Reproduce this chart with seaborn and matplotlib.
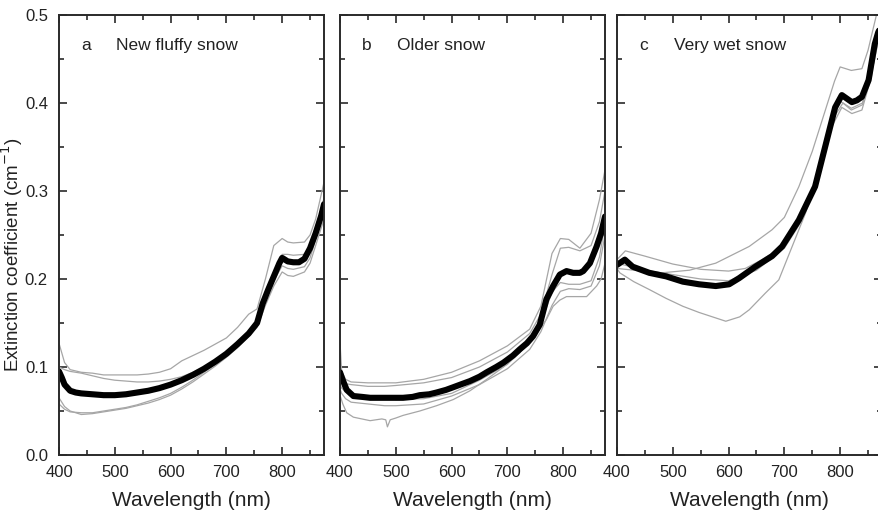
import matplotlib
matplotlib.use("Agg")
import matplotlib.pyplot as plt
from matplotlib.ticker import MultipleLocator
import seaborn as sns

# ---------------- data ----------------
xticks = [400, 500, 600, 700, 800]
yticks = [0.0, 0.1, 0.2, 0.3, 0.4, 0.5]
titles_letter = ["a", "b", "c"]
titles_text = ["New fluffy snow", "Older snow", "Very wet snow"]

# panel a
a_wl_mean = [400,405,410,420,430,440,460,480,500,520,540,560,580,600,620,640,660,680,700,720,740,755,765,775,785,795,800,810,820,830,840,850,860,870,875]
a_mean = [0.095,0.088,0.080,0.073,0.071,0.070,0.069,0.068,0.068,0.069,0.071,0.073,0.076,0.080,0.085,0.091,0.098,0.106,0.115,0.126,0.138,0.150,0.172,0.188,0.203,0.218,0.224,0.220,0.219,0.219,0.223,0.235,0.252,0.272,0.285]
a_wl_g = [400,410,420,440,460,480,500,520,540,560,580,600,620,640,660,680,700,720,740,755,770,785,800,810,820,840,850,860,875]
a_g1 = [0.127,0.105,0.097,0.094,0.093,0.091,0.091,0.091,0.091,0.092,0.094,0.098,0.107,0.113,0.119,0.126,0.133,0.145,0.160,0.166,0.200,0.238,0.246,0.242,0.241,0.242,0.250,0.268,0.310]
a_g2 = [0.100,0.097,0.095,0.093,0.090,0.087,0.085,0.084,0.083,0.083,0.084,0.086,0.089,0.094,0.100,0.108,0.117,0.128,0.140,0.152,0.182,0.208,0.228,0.228,0.227,0.228,0.236,0.256,0.292]
a_g3 = [0.065,0.055,0.050,0.046,0.047,0.049,0.051,0.053,0.056,0.059,0.063,0.068,0.075,0.083,0.092,0.101,0.111,0.122,0.135,0.145,0.170,0.192,0.208,0.204,0.203,0.208,0.218,0.238,0.268]
a_g4 = [0.058,0.052,0.049,0.048,0.048,0.050,0.052,0.054,0.057,0.061,0.065,0.070,0.077,0.085,0.094,0.103,0.113,0.124,0.137,0.148,0.176,0.198,0.215,0.212,0.211,0.214,0.224,0.245,0.276]

# panel b
b_wl_mean = [400,405,412,424,440,454,470,484,500,513,530,543,560,573,590,603,620,633,650,663,680,693,710,722,735,746,758,770,782,794,806,818,830,836,848,860,868,875]
b_mean = [0.094,0.085,0.074,0.067,0.066,0.065,0.065,0.065,0.065,0.065,0.066,0.068,0.069,0.071,0.074,0.077,0.081,0.084,0.089,0.094,0.100,0.105,0.113,0.120,0.127,0.135,0.148,0.177,0.192,0.205,0.209,0.207,0.207,0.209,0.218,0.237,0.252,0.271]
b_wl_g = [400,403,410,420,450,480,500,550,600,650,700,740,760,780,795,810,830,850,865,875]
b_g1 = [0.128,0.095,0.086,0.083,0.082,0.082,0.082,0.086,0.094,0.107,0.124,0.143,0.169,0.229,0.246,0.245,0.235,0.252,0.290,0.324]
b_g2 = [0.090,0.085,0.081,0.080,0.078,0.078,0.079,0.082,0.088,0.100,0.117,0.138,0.160,0.205,0.235,0.236,0.232,0.238,0.265,0.300]
b_g3 = [0.080,0.076,0.072,0.069,0.067,0.065,0.063,0.064,0.070,0.085,0.103,0.128,0.150,0.185,0.196,0.194,0.194,0.198,0.225,0.262]
b_g4 = [0.075,0.070,0.064,0.060,0.058,0.056,0.056,0.058,0.067,0.080,0.098,0.120,0.140,0.170,0.186,0.189,0.188,0.192,0.215,0.250]
b_wl_g5 = [400,405,412,424,454,475,482,485,490,500,513,543,573,603,633,663,693,722,752,770,782,794,806,824,842,860,868,875]
b_g5 = [0.068,0.058,0.048,0.043,0.039,0.041,0.040,0.032,0.040,0.042,0.045,0.050,0.056,0.063,0.073,0.086,0.100,0.116,0.139,0.154,0.169,0.176,0.180,0.180,0.180,0.192,0.200,0.218]

# panel c
c_wl_mean = [400,414,428,458,488,518,547,577,601,619,648,678,696,726,755,773,791,803,812,821,830,839,851,862,868,875]
c_mean = [0.216,0.222,0.214,0.207,0.203,0.197,0.194,0.192,0.194,0.201,0.214,0.226,0.237,0.267,0.305,0.350,0.395,0.409,0.405,0.401,0.403,0.407,0.426,0.467,0.480,0.490]
c_wl_g1 = [400,415,450,500,550,600,630,660,680,700,730,760,790,800,820,840,860,875]
c_g1 = [0.222,0.232,0.226,0.217,0.211,0.209,0.212,0.222,0.230,0.243,0.272,0.318,0.390,0.402,0.394,0.400,0.452,0.488]
c_wl_g2 = [400,430,480,530,577,637,678,700,726,750,770,790,800,820,839,850,865]
c_g2 = [0.212,0.210,0.207,0.210,0.218,0.237,0.256,0.270,0.305,0.345,0.385,0.425,0.441,0.437,0.439,0.460,0.500]
c_wl_g3 = [400,405,430,458,488,518,547,595,620,637,666,690,714,738,761,785,803,821,839,856,868,875]
c_g3 = [0.212,0.207,0.197,0.188,0.178,0.169,0.162,0.152,0.157,0.165,0.184,0.199,0.237,0.275,0.320,0.373,0.395,0.388,0.392,0.430,0.478,0.500]
c_wl_g4 = [400,450,500,550,600,650,700,730,760,790,805,820,840,860,875]
c_g4 = [0.218,0.210,0.205,0.200,0.198,0.210,0.235,0.265,0.315,0.385,0.400,0.392,0.398,0.445,0.490]

panels = [
    dict(grays=[(a_wl_g, a_g1), (a_wl_g, a_g2), (a_wl_g, a_g3), (a_wl_g, a_g4)],
         mean=(a_wl_mean, a_mean)),
    dict(grays=[(b_wl_g, b_g1), (b_wl_g, b_g2), (b_wl_g, b_g3), (b_wl_g, b_g4), (b_wl_g5, b_g5)],
         mean=(b_wl_mean, b_mean)),
    dict(grays=[(c_wl_g1, c_g1), (c_wl_g2, c_g2), (c_wl_g3, c_g3), (c_wl_g4, c_g4)],
         mean=(c_wl_mean, c_mean)),
]

# ---------------- style ----------------
sns.set_style("ticks")
plt.rcParams['font.family'] = ['Liberation Sans', 'DejaVu Sans']
txt_col = "#222222"
spine_col = "#2a2a2a"

fig = plt.figure(figsize=(8.79, 5.22), dpi=100)
W, H = 879.0, 522.0
top_px, bot_px = 15, 455
lefts_px = [59, 340, 617]
width_px = 265

for i, (lp, p) in enumerate(zip(lefts_px, panels)):
    ax = fig.add_axes([lp / W, 1 - bot_px / H, width_px / W, (bot_px - top_px) / H])
    for wl, vals in p["grays"]:
        sns.lineplot(x=wl, y=vals, ax=ax, color="#a6a6a6", lw=0.9, sort=True)
    wl, vals = p["mean"]
    sns.lineplot(x=wl, y=vals, ax=ax, color="black", lw=4.4, sort=True)

    ax.set_xlim(400, 875)
    ax.set_ylim(0, 0.5)
    ax.set_xticks(xticks)
    ax.set_yticks(yticks)
    ax.xaxis.set_minor_locator(MultipleLocator(50))
    ax.yaxis.set_minor_locator(MultipleLocator(0.05))
    ax.tick_params(which="both", direction="in", top=True, right=True,
                   width=1.2, color=spine_col, labelcolor=txt_col, labelsize=12)
    ax.tick_params(which="major", length=6)
    ax.tick_params(which="minor", length=3.5)
    ax.tick_params(axis="x", which="major", pad=7)
    ax.tick_params(axis="y", which="major", pad=8)
    for s in ax.spines.values():
        s.set_linewidth(1.4)
        s.set_color(spine_col)
    ax.set_xlabel("Wavelength (nm)", fontsize=15, color=txt_col, labelpad=8)
    ax.set_ylabel("")
    if i == 0:
        ax.set_yticklabels([f"{v:.1f}" for v in yticks])
    else:
        ax.tick_params(labelleft=False)
    ax.text(448, 0.465, titles_letter[i], fontsize=12.5, color=txt_col,
            ha="center", va="center")
    ax.text(502, 0.465, titles_text[i], fontsize=12.5, color=txt_col,
            ha="left", va="center")

fig.text(12 / W, 1 - 255 / H, "Extinction coefficient (cm$^{-1}$)", fontsize=13.5,
         color=txt_col, rotation=90, ha="center", va="center")

fig.savefig("out.png", dpi=100)
